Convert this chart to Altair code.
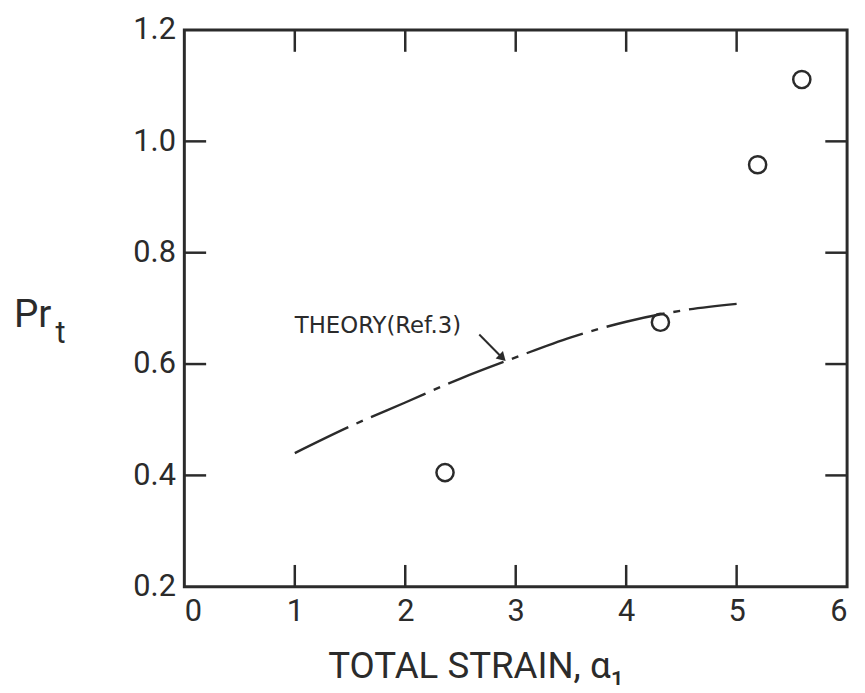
import altair as alt
import pandas as pd

# Experimental points
exp_x = [2.36, 4.31, 5.19, 5.59]
exp_y = [0.405, 0.675, 0.958, 1.111]

# Theory curve (Ref. 3)
theory_x = [1.0, 1.5, 2.0, 2.5, 3.0, 3.5, 4.0, 4.5, 5.0]
theory_y = [0.440, 0.488, 0.531, 0.574, 0.612, 0.648, 0.676, 0.696, 0.708]

# Axis ticks
x_ticks = [0, 1, 2, 3, 4, 5, 6]
y_ticks = [0.2, 0.4, 0.6, 0.8, 1.0, 1.2]
x_inner = [1, 2, 3, 4, 5]
y_inner = [0.4, 0.6, 0.8, 1.0]

# Annotation
label_text = ["THEORY(Ref.3)"]
label_x = [1.0]
label_y = [0.655]
arrow_x = [2.67]
arrow_y = [0.653]
arrow_x2 = [2.88]
arrow_y2 = [0.611]

INK = "#2b2b2b"
FONT = "Roboto"
W, H = 669, 562
TICK = 22

xs = alt.Scale(domain=[0, 6], nice=False, zero=False)
ys = alt.Scale(domain=[0.2, 1.2], nice=False, zero=False)

pts = pd.DataFrame({"x": exp_x, "y": exp_y})
theory = pd.DataFrame({"x": theory_x, "y": theory_y})
xt = pd.DataFrame({"t": x_inner})
yt = pd.DataFrame({"t": y_inner})
lab = pd.DataFrame({"x": label_x, "y": label_y, "text": label_text})
arr = pd.DataFrame({"x": arrow_x, "y": arrow_y, "x2": arrow_x2, "y2": arrow_y2})

x_axis = alt.Axis(values=x_ticks, format="d", domain=False, ticks=False, grid=False,
                  labelFont=FONT, labelFontSize=31, labelColor=INK, labelPadding=10,
                  title="TOTAL STRAIN, α₁", titleFont=FONT, titleFontSize=37,
                  titleFontWeight="normal", titleColor=INK, titleX=294, titleY=92,
                  titleAlign="center", titleBaseline="alphabetic")
y_axis = alt.Axis(values=y_ticks, format=".1f", domain=False, ticks=False, grid=False,
                  labelFont=FONT, labelFontSize=31, labelColor=INK, labelPadding=9,
                  title=None)

line = alt.Chart(theory).mark_line(color=INK, strokeWidth=2.4, strokeDash=[60, 9, 7, 9],
                                   interpolate="monotone").encode(
    x=alt.X("x:Q", scale=xs, axis=x_axis),
    y=alt.Y("y:Q", scale=ys, axis=y_axis),
)

points = alt.Chart(pts).mark_point(shape="circle", filled=False, color=INK,
                                   size=300, strokeWidth=2.5, opacity=1).encode(
    x=alt.X("x:Q", scale=xs), y=alt.Y("y:Q", scale=ys))

bottom_ticks = alt.Chart(xt).mark_rule(color=INK, strokeWidth=2.5).encode(
    x=alt.X("t:Q", scale=xs), y=alt.value(H), y2=alt.value(H - TICK))
top_ticks = alt.Chart(xt).mark_rule(color=INK, strokeWidth=2.5).encode(
    x=alt.X("t:Q", scale=xs), y=alt.value(0), y2=alt.value(TICK))
left_ticks = alt.Chart(yt).mark_rule(color=INK, strokeWidth=2.5).encode(
    y=alt.Y("t:Q", scale=ys), x=alt.value(0), x2=alt.value(TICK))
right_ticks = alt.Chart(yt).mark_rule(color=INK, strokeWidth=2.5).encode(
    y=alt.Y("t:Q", scale=ys), x=alt.value(W), x2=alt.value(W - TICK))

label = alt.Chart(lab).mark_text(font="DejaVu Sans", fontSize=23, color=INK, align="left",
                                 baseline="alphabetic").encode(
    x=alt.X("x:Q", scale=xs), y=alt.Y("y:Q", scale=ys), text="text:N")

arrow_line = alt.Chart(arr).mark_rule(color=INK, strokeWidth=2).encode(
    x=alt.X("x:Q", scale=xs), y=alt.Y("y:Q", scale=ys), x2="x2:Q", y2="y2:Q")
arrow_head = alt.Chart(arr).mark_point(shape="triangle-down", filled=True, color=INK,
                                       size=110, angle=315, opacity=1).encode(
    x=alt.X("x2:Q", scale=xs), y=alt.Y("y2:Q", scale=ys))

pr = alt.Chart(pd.DataFrame({"t": ["Pr"]})).mark_text(
    font=FONT, fontSize=39, color=INK, align="left", baseline="alphabetic").encode(
    x=alt.value(-172), y=alt.value(300), text="t:N")
sub = alt.Chart(pd.DataFrame({"t": ["t"]})).mark_text(
    font=FONT, fontSize=31, color=INK, align="left", baseline="alphabetic").encode(
    x=alt.value(-130), y=alt.value(316), text="t:N")

chart = alt.layer(line, points, bottom_ticks, top_ticks, left_ticks, right_ticks,
                  label, arrow_line, arrow_head, pr, sub).properties(
    width=W, height=H,
    autosize=alt.AutoSizeParams(type="none"),
    padding={"left": 178, "top": 19, "right": 10, "bottom": 100},
    background="white",
).configure_view(stroke=INK, strokeWidth=3)

chart.save("out.html", embed_options={"renderer": "svg", "actions": False})
